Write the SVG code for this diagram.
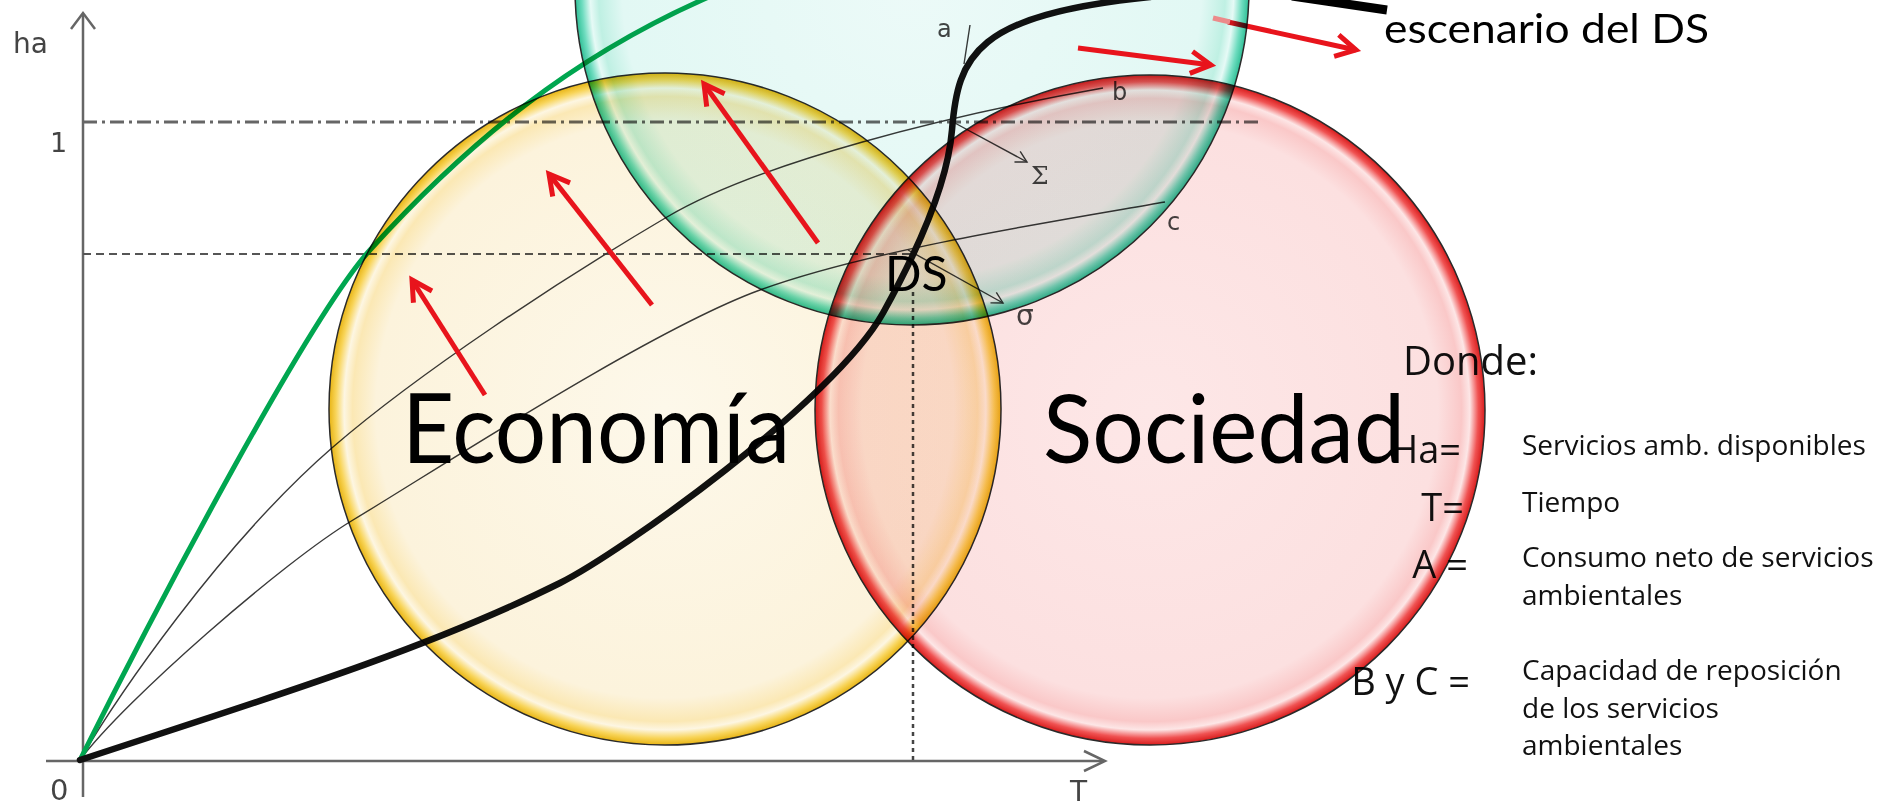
<svg xmlns="http://www.w3.org/2000/svg" width="1887" height="807" viewBox="0 0 1887 807">
<style>
.ax{stroke:#666;stroke-width:2.5;fill:none}
.thin{stroke:#3a3a3a;stroke-width:1.4;fill:none}
.lbl{font-family:"DejaVu Sans",sans-serif;fill:#444}
.red{stroke:#e8141c;stroke-width:5;fill:none;marker-end:url(#ra)}
.circ{mix-blend-mode:multiply;stroke:#2a2a2a;stroke-width:1.5}
.big{font-family:Lato,"Open Sans",sans-serif;fill:#000}
.leg{font-family:"Open Sans","Liberation Sans",sans-serif;fill:#111}
</style>
<defs>
<radialGradient id="gy" cx="0.5" cy="0.5" r="0.5">
<stop offset="0" stop-color="#fdf8ea"/><stop offset="0.86" stop-color="#fcf3dc"/><stop offset="0.93" stop-color="#fbe8b4"/><stop offset="0.955" stop-color="#fdf6e2"/><stop offset="0.98" stop-color="#f8d458"/><stop offset="1" stop-color="#e8b414"/>
</radialGradient>
<radialGradient id="gr" cx="0.5" cy="0.5" r="0.5">
<stop offset="0" stop-color="#fde7e7"/><stop offset="0.86" stop-color="#fce0e0"/><stop offset="0.93" stop-color="#fac8c8"/><stop offset="0.955" stop-color="#fde6e6"/><stop offset="0.98" stop-color="#f05252"/><stop offset="1" stop-color="#d81c1c"/>
</radialGradient>
<radialGradient id="gt" cx="0.5" cy="0.5" r="0.5">
<stop offset="0" stop-color="#ecfaf8"/><stop offset="0.86" stop-color="#e2f8f4"/><stop offset="0.93" stop-color="#bff0e3"/><stop offset="0.955" stop-color="#e6faf6"/><stop offset="0.98" stop-color="#6edcbf"/><stop offset="1" stop-color="#2fbf96"/>
</radialGradient>
<marker id="ra" viewBox="-26 -16 32 32" markerWidth="32" markerHeight="32" refX="0" refY="0" orient="auto" markerUnits="userSpaceOnUse">
<path d="M-20,-11 L0,0 L-20,11" fill="none" stroke="#e8141c" stroke-width="5"/>
</marker>
<marker id="ga" viewBox="-14 -8 16 16" markerWidth="16" markerHeight="16" refX="0" refY="0" orient="auto" markerUnits="userSpaceOnUse">
<path d="M-11,-6 L0,0 L-11,6" fill="none" stroke="#3a3a3a" stroke-width="1.4"/>
</marker>
</defs>
<rect width="1887" height="807" fill="#fff"/>

<g id="graph">
<line class="ax" x1="83" y1="797" x2="83" y2="14"/>
<polyline class="ax" points="71,29 83,13 95,29"/>
<line class="ax" x1="46" y1="761" x2="1104" y2="761"/>
<polyline class="ax" points="1084,751 1105,761 1084,771"/>
<line x1="83" y1="122" x2="1260" y2="122" stroke="#666" stroke-width="3" stroke-dasharray="14 5 3 5"/>
<line x1="83" y1="254" x2="913" y2="254" stroke="#555" stroke-width="2" stroke-dasharray="8 5"/>
<line x1="913" y1="292" x2="913" y2="761" stroke="#444" stroke-width="2.5" stroke-dasharray="4 4"/>
<path class="thin" d="M80,760 C115,700 220,545 333,447 C420,372 560,280 667,217 C760,162 950,115 1103,88"/>
<path class="thin" d="M80,760 C125,700 283,562 353,520 C433,472 650,330 760,290 C870,250 1050,222 1165,202"/>
<line class="thin" x1="970" y1="25" x2="964" y2="64"/>
<line class="thin" x1="953" y1="122" x2="1027" y2="162" marker-end="url(#ga)"/>
<line class="thin" x1="908" y1="250" x2="1003" y2="303" marker-end="url(#ga)"/>
<path d="M80,760 C160,600 310,316 370,250 C470,140 572,58 702,0 L760,-26" fill="none" stroke="#00a650" stroke-width="5"/>
<path d="M80,760 C240,707 420,653 560,583 C620,553 833,402 883,313 C908,268 947,192 952,130 C958,55 975,15 1150,-3" fill="none" stroke="#111" stroke-width="6.5" stroke-linecap="round"/>
<text class="lbl" x="13" y="53" font-size="28">ha</text>
<text class="lbl" x="50" y="152" font-size="27">1</text>
<text class="lbl" x="50" y="800" font-size="29">0</text>
<text class="lbl" x="1070" y="801" font-size="28">T</text>
<text class="lbl" x="937" y="37" font-size="24">a</text>
<text class="lbl" x="1112" y="100" font-size="24">b</text>
<text class="lbl" x="1167" y="230" font-size="24">c</text>
<text x="1031" y="184" font-size="25" font-family="'DejaVu Serif',serif" fill="#444">Σ</text>
<text class="lbl" x="1016" y="325" font-size="28">σ</text>
<line x1="1228" y1="22" x2="1356" y2="50" class="red"/>
</g>

<g id="legend-keys">
<text class="leg" x="1403" y="375" font-size="40">Donde:</text>
<text class="leg" x="1461" y="463" font-size="38" text-anchor="end" fill="#333">Ha=</text>
<text class="leg" x="1464" y="521" font-size="38" text-anchor="end" fill="#333">T=</text>
<text class="leg" x="1468" y="578" font-size="38" text-anchor="end" fill="#333">A =</text>
<text class="leg" x="1470" y="695" font-size="38" text-anchor="end" fill="#333">B y C =</text>
</g>

<g id="circles">
<circle id="economia" class="circ" cx="665" cy="409" r="336" fill="url(#gy)"/>
<circle id="sociedad" class="circ" cx="1150" cy="410" r="335" fill="url(#gr)"/>
<circle id="ambiente" class="circ" cx="912" cy="-12" r="337" fill="url(#gt)"/>
</g>

<g id="connectors">
<line x1="485" y1="395" x2="412" y2="280" class="red"/>
<line x1="652" y1="305" x2="549" y2="174" class="red"/>
<line x1="818" y1="243" x2="704" y2="84" class="red"/>
<line x1="1078" y1="48" x2="1211" y2="65" class="red"/>
<line x1="1213" y1="18" x2="1230" y2="22" stroke="#ec8a8a" stroke-width="5"/>
<line x1="1292" y1="-4" x2="1387" y2="10" stroke="#000" stroke-width="9"/>
</g>

<g id="labels">
<text class="big" x="402" y="463" font-size="97" textLength="388" lengthAdjust="spacingAndGlyphs">Economía</text>
<text class="big" x="1043" y="463" font-size="95" textLength="362" lengthAdjust="spacingAndGlyphs">Sociedad</text>
<text class="big" x="885" y="291" font-size="48">DS</text>
<text class="big" x="1384" y="43" font-size="41" textLength="325" lengthAdjust="spacingAndGlyphs">escenario del DS</text>
</g>

<g id="legend-text" class="leg" font-size="28">
<text x="1522" y="455">Servicios amb. disponibles</text>
<text x="1522" y="512">Tiempo</text>
<text x="1522" y="567">Consumo neto de servicios</text>
<text x="1522" y="605">ambientales</text>
<text x="1522" y="680">Capacidad de reposición</text>
<text x="1522" y="718">de los servicios</text>
<text x="1522" y="755">ambientales</text>
</g>
</svg>
